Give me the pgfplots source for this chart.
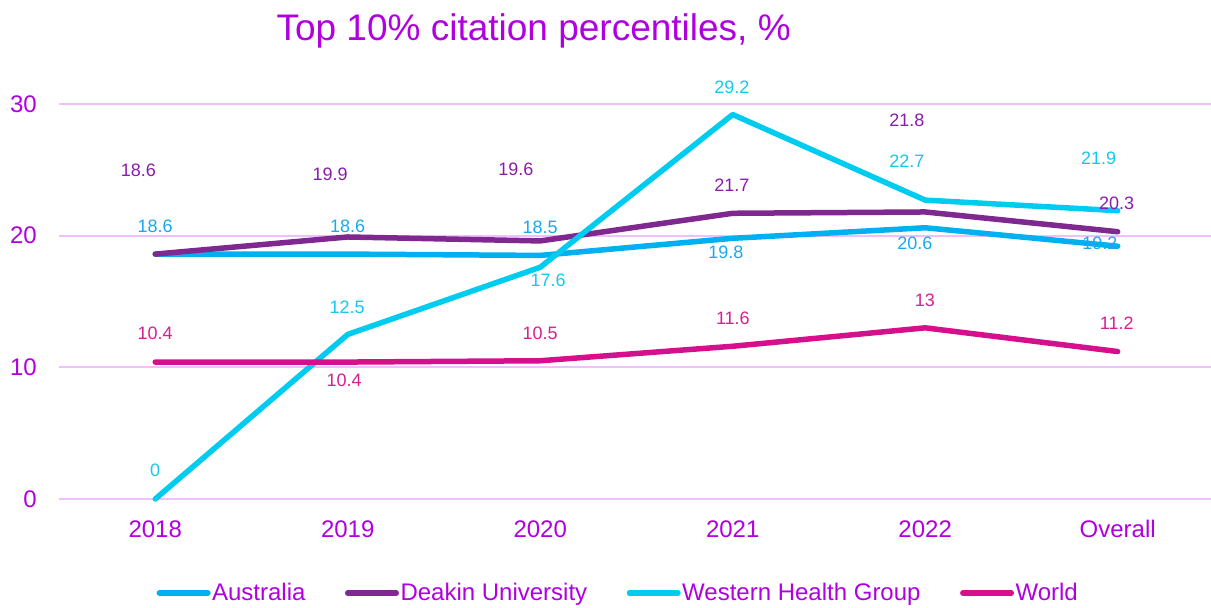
\documentclass[border=0pt]{standalone}
\usepackage{fontspec}
\setmainfont{Liberation Sans}
\usepackage{pgfplots}
\pgfplotsset{compat=1.18}

\definecolor{ttl}{HTML}{B000E0}
\definecolor{gridc}{HTML}{EEC0FC}
\definecolor{aus}{HTML}{00B0F0}
\definecolor{dea}{HTML}{7F2890}
\definecolor{whg}{HTML}{00CCF0}
\definecolor{wld}{HTML}{D6108C}
\definecolor{ausL}{HTML}{1AA8EC}
\definecolor{deaL}{HTML}{8A1CAA}
\definecolor{whgL}{HTML}{14C8F0}
\definecolor{wldL}{HTML}{D6208E}

\pgfplotsset{
  lbl/.style={draw=none, mark=none, forget plot, nodes near coords,
    point meta=explicit symbolic,
    nodes near coords style={anchor=center, text=#1, inner sep=0pt,
      font=\fontsize{18bp}{22bp}\selectfont}},
  ser/.style={color=#1, line width=5.5bp, line join=round, line cap=round, mark=none},
}

\begin{document}
\begin{tikzpicture}
\useasboundingbox (-59bp,-109bp) rectangle (1152bp,499bp);
\begin{axis}[
  scale only axis, width=1155bp, height=395bp,
  xmin=-0.5, xmax=5.5, ymin=0, ymax=30,
  clip=false,
  axis line style={draw=none},
  tick style={draw=none},
  major tick length=0pt,
  xtick={0,...,5},
  xticklabels={2018,2019,2020,2021,2022,Overall},
  ytick={0,10,20,30},
  ymajorgrids,
  grid style={color=gridc, line width=2bp},
  /pgf/number format/assume math mode=true,
  tick label style={font=\fontsize{24bp}{28bp}\selectfont, text=ttl, inner sep=0pt},
  xticklabel style={anchor=base, yshift=-38bp},
  yticklabel style={anchor=east, xshift=-22bp},
  title={Top 10\% citation percentiles, \%},
  title style={at={(0.411,1.146)}, anchor=base, inner sep=0pt,
    font=\fontsize{37bp}{43bp}\selectfont, text=ttl},
  legend columns=4,
  legend style={at={(0.484,-0.238)}, anchor=center, draw=none, fill=none,
    font=\fontsize{24bp}{28bp}\selectfont, text=ttl, inner sep=0pt,
    nodes={inner sep=1.5bp},
    /tikz/every even column/.append style={column sep=38bp}},
  legend image code/.code={\draw[#1, line width=5.5bp, line cap=round] (2.5bp,0) -- (51bp,0);},
]

% data labels (drawn first, lines go over them)
\addplot[lbl=ausL] coordinates {(0,20.73)[18.6] (1,20.73)[18.6] (2,20.66)[18.5] (2.965,18.76)[19.8] (3.946,19.44)[20.6] (4.907,19.44)[19.2]};
\addplot[lbl=deaL] coordinates {(-0.088,24.99)[18.6] (0.909,24.68)[19.9] (1.874,25.06)[19.6] (2.996,23.85)[21.7] (3.905,28.78)[21.8] (4.995,22.48)[20.3]};
\addplot[lbl=whgL] coordinates {(0,2.20)[0] (0.997,14.58)[12.5] (2.041,16.63)[17.6] (2.996,31.29)[29.2] (3.905,25.67)[22.7] (4.901,25.90)[21.9]};
\addplot[lbl=wldL] coordinates {(0,12.61)[10.4] (0.981,9.04)[10.4] (2,12.61)[10.5] (3.001,13.75)[11.6] (3.998,15.11)[13] (4.995,13.37)[11.2]};

% series
\addplot[ser=aus] coordinates {(0,18.6) (1,18.6) (2,18.5) (3,19.8) (4,20.6) (5,19.2)};
\addlegendentry{Australia}
\addplot[ser=dea] coordinates {(0,18.6) (1,19.9) (2,19.6) (3,21.7) (4,21.8) (5,20.3)};
\addlegendentry{Deakin University}
\addplot[ser=whg] coordinates {(0,0) (1,12.5) (2,17.6) (3,29.2) (4,22.7) (5,21.9)};
\addlegendentry{Western Health Group}
\addplot[ser=wld] coordinates {(0,10.4) (1,10.4) (2,10.5) (3,11.6) (4,13) (5,11.2)};
\addlegendentry{World}
\end{axis}
\end{tikzpicture}
\end{document}
